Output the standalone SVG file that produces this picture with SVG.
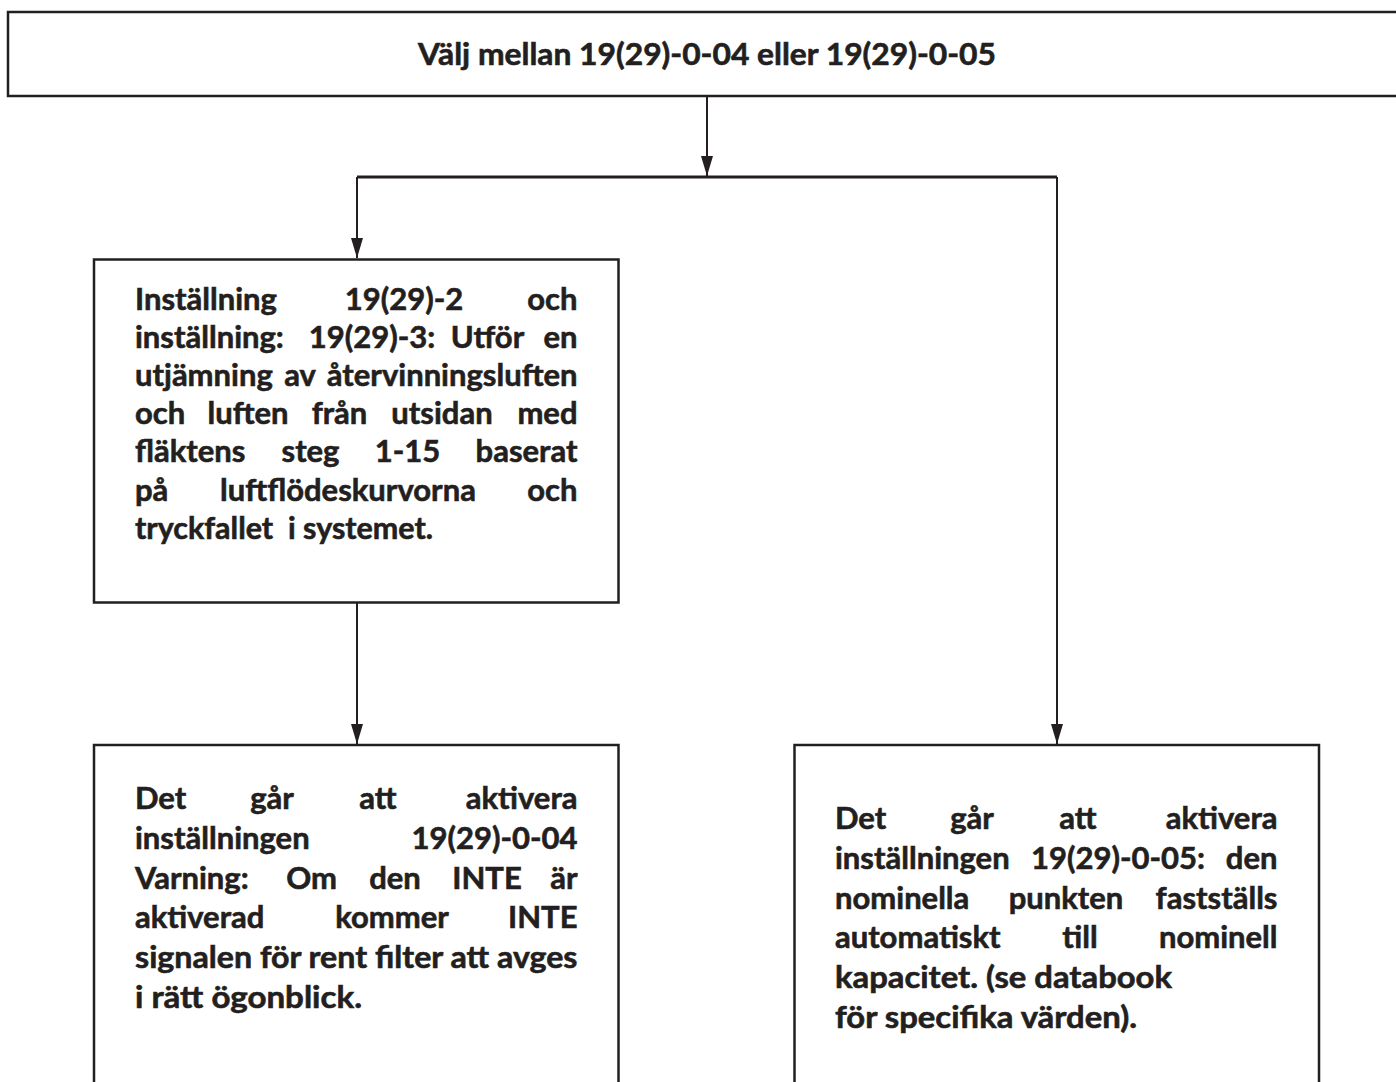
<svg xmlns="http://www.w3.org/2000/svg" width="1396" height="1082" viewBox="0 0 1396 1082">
<style>
.box{fill:#fff;stroke:#231f20;stroke-width:2.5}
.ln{fill:none;stroke:#231f20;stroke-width:2}
.t{font-family:Lato,"Open Sans","Liberation Sans",sans-serif;font-weight:700;font-size:31px;fill:#231f20;stroke:#231f20;stroke-width:0.6}
.m{text-anchor:middle}
.e{text-anchor:end}
</style>
<defs>
<marker id="arr" markerUnits="userSpaceOnUse" markerWidth="20" markerHeight="12" viewBox="0 0 20 12" refX="20" refY="6" orient="auto">
<path d="M0,0 L20,6 L0,12 z" fill="#231f20"/>
</marker>
</defs>
<rect width="1396" height="1082" fill="#fff"/>
<g id="connectors">
<line class="ln" x1="707" y1="96" x2="707" y2="176" marker-end="url(#arr)"/>
<line class="ln" x1="357" y1="177" x2="1057" y2="177" style="stroke-width:3"/>
<line class="ln" x1="357" y1="177" x2="357" y2="258" marker-end="url(#arr)"/>
<line class="ln" x1="1057" y1="177" x2="1057" y2="744" marker-end="url(#arr)"/>
<line class="ln" x1="357" y1="603" x2="357" y2="744" marker-end="url(#arr)"/>
</g>
<g id="node-top">
<rect class="box" x="8" y="12" width="1400" height="84"/>
<text class="t m" x="707" y="65" textLength="578" lengthAdjust="spacingAndGlyphs">Välj mellan 19(29)-0-04 eller 19(29)-0-05</text>
</g>
<g id="node-left-1">
<rect class="box" x="94" y="259.5" width="524.5" height="343"/>
<text class="t" y="310"><tspan x="135">Inställning</tspan><tspan class="m" x="404">19(29)-2</tspan><tspan class="e" x="577.5">och</tspan></text>
<text class="t" y="348.1"><tspan x="135">inställning:</tspan><tspan class="m" x="372">19(29)-3:</tspan><tspan class="m" x="487.5">Utför</tspan><tspan class="e" x="577.5">en</tspan></text>
<text class="t" y="386.2"><tspan x="135">utjämning</tspan><tspan class="m" x="300">av</tspan><tspan class="e" x="577.5">återvinningsluften</tspan></text>
<text class="t" y="424.3"><tspan x="135">och</tspan><tspan class="m" x="248">luften</tspan><tspan class="m" x="339.5">från</tspan><tspan class="m" x="442">utsidan</tspan><tspan class="e" x="577.5">med</tspan></text>
<text class="t" y="462.4"><tspan x="135">fläktens</tspan><tspan class="m" x="310.5">steg</tspan><tspan class="m" x="407.5">1-15</tspan><tspan class="e" x="577.5">baserat</tspan></text>
<text class="t" y="500.5"><tspan x="135">på</tspan><tspan class="m" x="348">luftflödeskurvorna</tspan><tspan class="e" x="577.5">och</tspan></text>
<text class="t" y="538.6" x="135" xml:space="preserve" textLength="298" lengthAdjust="spacingAndGlyphs">tryckfallet  i systemet.</text>
</g>
<g id="node-left-2">
<rect class="box" x="94" y="745" width="524.5" height="360"/>
<text class="t" y="809"><tspan x="135">Det</tspan><tspan class="m" x="272">går</tspan><tspan class="m" x="378">att</tspan><tspan class="e" x="577.5">aktivera</tspan></text>
<text class="t" y="848.8"><tspan x="135">inställningen</tspan><tspan class="e" x="577.5">19(29)-0-04</tspan></text>
<text class="t" y="888.6"><tspan x="135">Varning:</tspan><tspan class="m" x="311.6">Om</tspan><tspan class="m" x="395">den</tspan><tspan class="m" x="487">INTE</tspan><tspan class="e" x="577.5">är</tspan></text>
<text class="t" y="928.4"><tspan x="135">aktiverad</tspan><tspan class="m" x="392">kommer</tspan><tspan class="e" x="577.5">INTE</tspan></text>
<text class="t" y="968.2" x="135" textLength="442.5" lengthAdjust="spacingAndGlyphs">signalen för rent filter att avges</text>
<text class="t" y="1008" x="135" textLength="227" lengthAdjust="spacingAndGlyphs">i rätt ögonblick.</text>
</g>
<g id="node-right">
<rect class="box" x="794.5" y="745" width="524.5" height="360"/>
<text class="t" y="829"><tspan x="835">Det</tspan><tspan class="m" x="972">går</tspan><tspan class="m" x="1078">att</tspan><tspan class="e" x="1277.5">aktivera</tspan></text>
<text class="t" y="868.8"><tspan x="835">inställningen</tspan><tspan class="m" x="1118">19(29)-0-05:</tspan><tspan class="e" x="1277.5">den</tspan></text>
<text class="t" y="908.6"><tspan x="835">nominella</tspan><tspan class="m" x="1066">punkten</tspan><tspan class="e" x="1277.5">fastställs</tspan></text>
<text class="t" y="948.4"><tspan x="835">automatiskt</tspan><tspan class="m" x="1080">till</tspan><tspan class="e" x="1277.5">nominell</tspan></text>
<text class="t" y="988.2" x="835" textLength="337" lengthAdjust="spacingAndGlyphs">kapacitet. (se databook</text>
<text class="t" y="1028" x="835" textLength="302" lengthAdjust="spacingAndGlyphs">för specifika värden).</text>
</g>
</svg>
